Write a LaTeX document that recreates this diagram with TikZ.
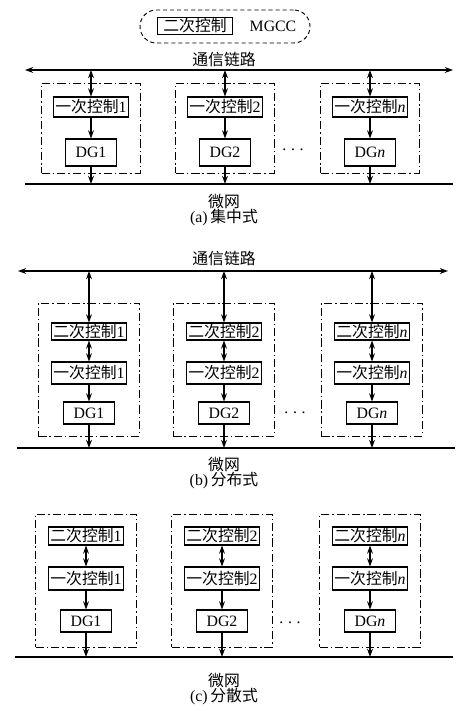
\documentclass[tikz,border=0pt]{standalone}
\usepackage{fontspec}
\setmainfont{Liberation Serif}
\newfontfamily\cjk{Noto Sans CJK SC}
\usetikzlibrary{arrows.meta, positioning}
\newcommand{\zh}[1]{{\cjk #1}}

\begin{document}
\begin{tikzpicture}[x=0.03cm, y=-0.03cm, font=\fontsize{13.5}{15}\selectfont,
    ctrl/.style={rectangle, draw, line width=0.9pt, minimum width=2.25cm, inner sep=1pt},
    dgbox/.style={rectangle, draw, line width=0.9pt, minimum width=1.55cm, inner sep=1pt},
    unit/.style={rectangle, draw, line width=0.8pt, dash pattern=on 7pt off 2.5pt on 1.2pt off 2.5pt, minimum width=2.95cm},
    bus/.style={line width=1pt},
    arrow/.style={-{Stealth[length=7pt,width=5pt]}, line width=0.9pt},
    biarrow/.style={{Stealth[length=7pt,width=5pt]}-{Stealth[length=7pt,width=5pt]}, line width=0.9pt}
]
\useasboundingbox (0,0) rectangle (468,711);

% (a) centralised
\node[rectangle, draw, rounded corners=0.49cm, dash pattern=on 3.5pt off 2.5pt, line width=0.8pt, minimum width=5.1cm, minimum height=0.99cm] (ccA) at (225,26.5) {};
\node[ctrl, minimum height=0.48cm] (secA) at (195,26) {\zh{二次控制}};
\node (mgcc) at (273,26) {MGCC};
\node (linkA) at (224,59) {\zh{通信链路}};
\coordinate (linkAl) at (25,70);
\coordinate (linkAr) at (453,70);
\coordinate (gridAl) at (25,184);
\coordinate (gridAr) at (453,184);
\draw[biarrow] (linkAl) -- (linkAr);
\draw[bus] (gridAl) -- (gridAr);
\foreach \x/\k/\s in {91/1/1, 225/2/2, 370/3/\textit{n}} {
  \node[unit, minimum height=2.7cm] (unitA\k) at (\x,128) {};
  \node[ctrl, minimum height=0.6cm] (priA\k) at (\x,107) {\zh{一次控制}\s};
  \node[dgbox, minimum height=0.81cm] (dgA\k) at (\x,152.5) {DG\s};
  \draw[biarrow] (priA\k.north) -- (priA\k.north |- linkAl);
  \draw[arrow] (priA\k) -- (dgA\k);
  \draw[arrow] (dgA\k) -- (dgA\k |- gridAl);
}
\node (dotsA) at (293,150) {.\hspace{4pt}.\hspace{4pt}.};
\node (gridA) at (224,202) {\zh{微网}};
\node (capA) at (224,218) {(a)\,\zh{集中式}};

% (b) distributed
\node (linkB) at (224,258) {\zh{通信链路}};
\coordinate (linkBl) at (18,271);
\coordinate (linkBr) at (448,271);
\coordinate (gridBl) at (17,448);
\coordinate (gridBr) at (455,448);
\draw[biarrow] (linkBl) -- (linkBr);
\draw[bus] (gridBl) -- (gridBr);
\foreach \x/\k/\s in {89/1/1, 224/2/2, 372/3/\textit{n}} {
  \node[unit, minimum height=3.99cm, minimum width=3.04cm] (unitB\k) at (\x,369.5) {};
  \node[ctrl, minimum height=0.51cm] (secB\k) at (\x,331.5) {\zh{二次控制}\s};
  \node[ctrl, minimum height=0.66cm] (priB\k) at (\x,373) {\zh{一次控制}\s};
  \node[dgbox, minimum height=0.66cm] (dgB\k) at (\x,413) {DG\s};
  \draw[biarrow] (secB\k.north) -- (secB\k.north |- linkBl);
  \draw[biarrow] (secB\k) -- (priB\k);
  \draw[arrow] (priB\k) -- (dgB\k);
  \draw[arrow] (dgB\k) -- (dgB\k |- gridBl);
}
\node (dotsB) at (295,413) {.\hspace{4pt}.\hspace{4pt}.};
\node (gridB) at (224,465) {\zh{微网}};
\node (capB) at (224,481) {(b)\,\zh{分布式}};

% (c) decentralised
\coordinate (gridCl) at (15,657);
\coordinate (gridCr) at (453,657);
\draw[bus] (gridCl) -- (gridCr);
\foreach \x/\k/\s in {86/1/1, 222/2/2, 370/3/\textit{n}} {
  \node[unit, minimum height=3.99cm, minimum width=3.02cm] (unitC\k) at (\x,580.5) {};
  \node[ctrl, minimum height=0.54cm] (secC\k) at (\x,536) {\zh{二次控制}\s};
  \node[ctrl, minimum height=0.69cm] (priC\k) at (\x,578.5) {\zh{一次控制}\s};
  \node[dgbox, minimum height=0.66cm] (dgC\k) at (\x,621) {DG\s};
  \draw[biarrow] (secC\k) -- (priC\k);
  \draw[arrow] (priC\k) -- (dgC\k);
  \draw[arrow] (dgC\k) -- (dgC\k |- gridCl);
}
\node (dotsC) at (290,623) {.\hspace{4pt}.\hspace{4pt}.};
\node (gridC) at (224,680) {\zh{微网}};
\node (capC) at (224,697) {(c)\,\zh{分散式}};
\end{tikzpicture}
\end{document}
